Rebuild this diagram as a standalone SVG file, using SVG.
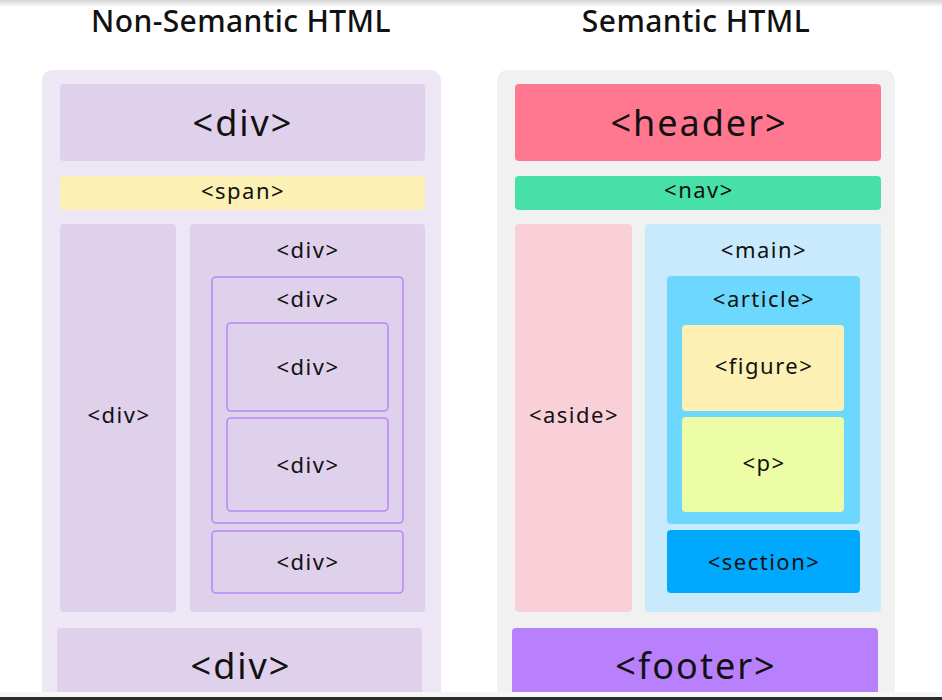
<svg xmlns="http://www.w3.org/2000/svg" width="942" height="700" viewBox="0 0 942 700">
<defs>
<linearGradient id="topshade" x1="0" y1="0" x2="0" y2="1">
<stop offset="0" stop-color="#d4d4d4"/>
<stop offset="1" stop-color="#ffffff"/>
</linearGradient>
<style>
text{font-family:"Noto Sans","Liberation Sans",sans-serif;fill:#111;text-anchor:middle}
.title{font-size:30px;font-weight:500;letter-spacing:0.4px}
.big{font-size:36px;letter-spacing:2px}
.sm{font-size:22px;letter-spacing:1.5px}
.nsbox{fill:#dfd0ec}
.outl{fill:none;stroke:#b98af6;stroke-width:1.6}
</style>
</defs>
<rect x="0" y="0" width="942" height="700" fill="#ffffff"/>
<rect x="0" y="0" width="942" height="7" fill="url(#topshade)"/>

<g id="title-left"><text class="title" x="241" y="32">Non-Semantic HTML</text></g>
<g id="title-right"><text class="title" x="696" y="32">Semantic HTML</text></g>

<g id="panel-left"><rect x="42" y="70" width="399" height="640" rx="10" fill="#ede6f5"/></g>
<g id="panel-right"><rect x="497" y="70" width="398" height="640" rx="10" fill="#f1f1f1"/></g>

<g id="ns-div-top"><rect class="nsbox" x="60" y="84" width="365" height="77" rx="4"/><text class="big" x="243" y="136">&lt;div&gt;</text></g>
<g id="ns-span"><rect x="60" y="176" width="365" height="34" rx="4" fill="#fdf0b4"/><text class="sm" x="243" y="199">&lt;span&gt;</text></g>
<g id="ns-div-left"><rect class="nsbox" x="60" y="224" width="116" height="388" rx="4"/><text class="sm" x="119" y="423">&lt;div&gt;</text></g>
<g id="ns-div-right"><rect class="nsbox" x="190" y="224" width="235" height="388" rx="4"/><text class="sm" x="308" y="258">&lt;div&gt;</text></g>
<g id="ns-div-outer"><rect class="outl" x="212" y="277" width="191" height="246" rx="4"/><text class="sm" x="308" y="307">&lt;div&gt;</text></g>
<g id="ns-div-inner1"><rect class="outl" x="227" y="323" width="161" height="88" rx="4"/><text class="sm" x="308" y="375">&lt;div&gt;</text></g>
<g id="ns-div-inner2"><rect class="outl" x="227" y="418" width="161" height="93" rx="4"/><text class="sm" x="308" y="473">&lt;div&gt;</text></g>
<g id="ns-div-bottom"><rect class="outl" x="212" y="531" width="191" height="62" rx="4"/><text class="sm" x="308" y="570">&lt;div&gt;</text></g>
<g id="ns-div-footer"><rect class="nsbox" x="57" y="628" width="365" height="80" rx="4"/><text class="big" x="241" y="679">&lt;div&gt;</text></g>

<g id="s-header"><rect x="515" y="84" width="366" height="77" rx="4" fill="#ff7890"/><text class="big" x="699" y="136">&lt;header&gt;</text></g>
<g id="s-nav"><rect x="515" y="176" width="366" height="34" rx="4" fill="#47e0a8"/><text class="sm" x="699" y="198">&lt;nav&gt;</text></g>
<g id="s-aside"><rect x="515" y="224" width="117" height="388" rx="4" fill="#f9d0d8"/><text class="sm" x="574" y="423">&lt;aside&gt;</text></g>
<g id="s-main"><rect x="645" y="224" width="236" height="388" rx="4" fill="#c9eafd"/><text class="sm" x="764" y="258">&lt;main&gt;</text></g>
<g id="s-article"><rect x="667" y="276" width="193" height="248" rx="4" fill="#6dd8fe"/><text class="sm" x="764" y="307">&lt;article&gt;</text></g>
<g id="s-figure"><rect x="682" y="325" width="162" height="86" rx="4" fill="#fdf0b4"/><text class="sm" x="764" y="374">&lt;figure&gt;</text></g>
<g id="s-p"><rect x="682" y="417" width="162" height="95" rx="4" fill="#edfda6"/><text class="sm" x="764" y="471">&lt;p&gt;</text></g>
<g id="s-section"><rect x="667" y="530" width="193" height="63" rx="4" fill="#00a9fe"/><text class="sm" x="764" y="570">&lt;section&gt;</text></g>
<g id="s-footer"><rect x="512" y="628" width="366" height="80" rx="4" fill="#b980fe"/><text class="big" x="696" y="679">&lt;footer&gt;</text></g>

<g id="connectors"/>

<rect x="0" y="692" width="942" height="6" fill="#f6f6f6"/>
<rect x="0" y="697" width="942" height="3" fill="#2b2b2b"/>
</svg>
